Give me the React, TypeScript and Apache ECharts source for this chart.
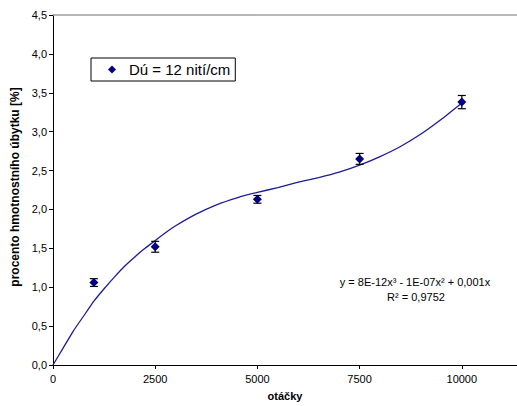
import React, { useEffect, useRef } from "react";
import * as echarts from "echarts";

const pointX = [1000, 2500, 5000, 7500, 10000];
const pointY = [1.06, 1.52, 2.13, 2.65, 3.38];
const pointErr = [0.05, 0.07, 0.05, 0.07, 0.085];

const trendX = [0, 250, 500, 750, 1000, 1250, 1500, 1750, 2000, 2250, 2500, 2750, 3000, 3500, 4000, 4500, 5000, 5500, 6000, 6500, 7000, 7500, 8000, 8500, 9000, 9500, 10000];
const trendY = [0, 0.22, 0.44, 0.63, 0.82, 0.98, 1.13, 1.27, 1.39, 1.5, 1.6, 1.7, 1.79, 1.94, 2.06, 2.15, 2.22, 2.28, 2.35, 2.41, 2.48, 2.57, 2.68, 2.81, 2.97, 3.16, 3.37];

const seriesName = "Dú = 12 nití/cm";
const yAxisTitle = "procento hmotnostního úbytku [%]";
const xAxisTitle = "otáčky";
const equationText = "y = 8E-12x³ - 1E-07x² + 0,001x";
const r2Text = "R² = 0,9752";

const FONT = "'Liberation Sans', Arial, sans-serif";

export default function App() {
  const ref = useRef<HTMLDivElement>(null);
  useEffect(() => {
    if (!ref.current) return;
    const chart = echarts.init(ref.current, undefined, { renderer: "svg" });
    const scatterData = pointX.map((x, i) => [x, pointY[i]]);
    const errData = pointX.map((x, i) => [x, pointY[i] - pointErr[i], pointY[i] + pointErr[i]]);
    const trendData = trendX.map((x, i) => [x, trendY[i]]);
    chart.setOption({
      animation: false,
      backgroundColor: "#ffffff",
      textStyle: { fontFamily: FONT },
      grid: { left: 53, top: 15, right: 0, bottom: 41, containLabel: false },
      legend: {
        left: 91,
        top: 58,
        orient: "vertical",
        data: [{ name: seriesName, icon: "diamond", itemStyle: { color: "#000080", opacity: 1 } }],
        itemWidth: 8,
        itemHeight: 8,
        padding: [4, 5, 4, 17],
        borderColor: "#000000",
        borderWidth: 1,
        backgroundColor: "#ffffff",
        textStyle: { fontSize: 15, color: "#000000", fontFamily: FONT, padding: [0, 0, 0, 8] },
      },
      xAxis: [
        {
          type: "value",
          min: 0,
          max: 11350,
          interval: 2500,
          name: xAxisTitle,
          nameLocation: "middle",
          nameGap: 25,
          nameTextStyle: { fontWeight: "bold", fontSize: 11, color: "#000000", fontFamily: FONT },
          axisLine: { show: true, lineStyle: { color: "#000000", width: 1 } },
          axisTick: { show: true, inside: false, length: 4, lineStyle: { color: "#000000" } },
          axisLabel: {
            fontSize: 11,
            color: "#000000",
            margin: 8,
            showMaxLabel: false,
            fontFamily: FONT,
            formatter: (v: number) => String(Math.round(v)),
          },
          splitLine: { show: false },
        },
        {
          type: "value",
          position: "top",
          min: 0,
          max: 11350,
          axisLine: { show: true, onZero: false, lineStyle: { color: "#a0a0a0", width: 1.5 } },
          axisTick: { show: false },
          axisLabel: { show: false },
          splitLine: { show: false },
        },
      ],
      yAxis: {
        type: "value",
        min: 0,
        max: 4.5,
        interval: 0.5,
        axisLine: { show: true, lineStyle: { color: "#000000", width: 1 } },
        axisTick: { show: true, inside: false, length: 4, lineStyle: { color: "#000000" } },
        axisLabel: {
          fontSize: 11,
          color: "#000000",
          margin: 6,
          fontFamily: FONT,
          formatter: (v: number) => v.toFixed(1).replace(".", ","),
        },
        splitLine: { show: false },
      },
      graphic: [
        {
          type: "text",
          x: 15,
          y: 187,
          rotation: Math.PI / 2,
          style: {
            text: yAxisTitle,
            fontSize: 12,
            fontWeight: "bold",
            fontFamily: FONT,
            fill: "#000000",
            align: "center",
            verticalAlign: "middle",
          },
        },
        {
          type: "text",
          x: 415,
          y: 282,
          style: {
            text: equationText,
            fontSize: 11,
            fontFamily: FONT,
            fill: "#000000",
            align: "center",
            verticalAlign: "middle",
          },
        },
        {
          type: "text",
          x: 416,
          y: 297,
          style: {
            text: r2Text,
            fontSize: 11,
            fontFamily: FONT,
            fill: "#000000",
            align: "center",
            verticalAlign: "middle",
          },
        },
      ],
      series: [
        {
          name: "trend",
          type: "line",
          data: trendData,
          smooth: 0.15,
          showSymbol: false,
          symbol: "none",
          lineStyle: { color: "#1c1c96", width: 1.3 },
          z: 2,
          silent: true,
        },
        {
          name: "err",
          type: "custom",
          data: errData,
          z: 3,
          silent: true,
          renderItem: (params: any, api: any) => {
            const x = api.value(0);
            const lo = api.coord([x, api.value(1)]);
            const hi = api.coord([x, api.value(2)]);
            const hw = 4;
            const style = { stroke: "#000000", lineWidth: 1.2 };
            return {
              type: "group",
              children: [
                { type: "line", shape: { x1: lo[0], y1: lo[1], x2: hi[0], y2: hi[1] }, style },
                { type: "line", shape: { x1: lo[0] - hw, y1: lo[1], x2: lo[0] + hw, y2: lo[1] }, style },
                { type: "line", shape: { x1: hi[0] - hw, y1: hi[1], x2: hi[0] + hw, y2: hi[1] }, style },
              ],
            };
          },
        },
        {
          name: seriesName,
          type: "scatter",
          data: scatterData,
          symbol: "diamond",
          symbolSize: 9,
          itemStyle: { color: "#000080", opacity: 1 },
          z: 4,
        },
      ],
    });
    return () => chart.dispose();
  }, []);
  return (
    <div
      ref={ref}
      style={{ position: "fixed", left: 0, top: 0, width: 517, height: 406, background: "#fff" }}
    />
  );
}
